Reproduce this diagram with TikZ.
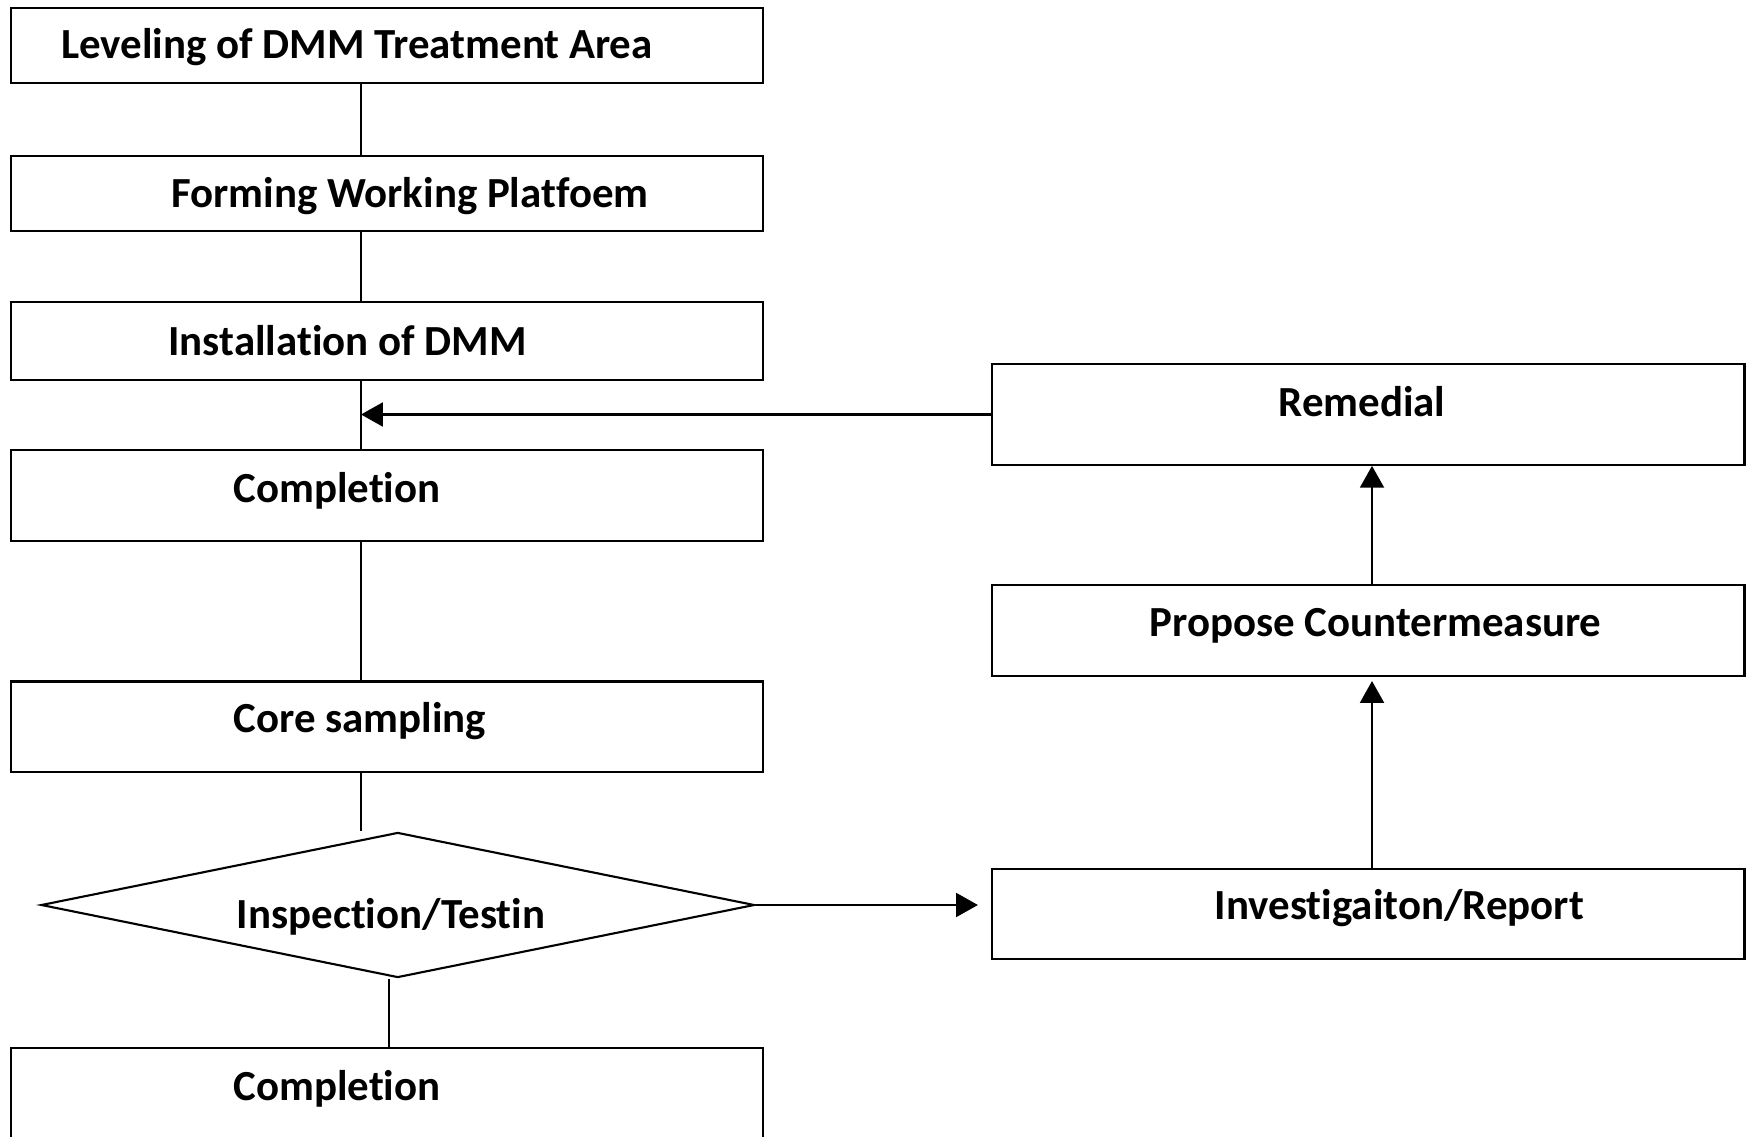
\documentclass[tikz,border=0pt]{standalone}
\usepackage{fontspec}
\setmainfont{Carlito}[Ligatures=NoCommon]
\usetikzlibrary{shapes.geometric,arrows.meta}
\begin{document}
\begin{tikzpicture}[x=0.01cm,y=-0.01cm,
  box/.style={draw,line width=0.6pt,rectangle,minimum width=7.52cm,inner sep=0pt},
  dia/.style={draw,line width=0.6pt,diamond,minimum width=7.13cm,minimum height=1.45cm,inner sep=0pt},
  txt/.style={font=\bfseries\fontsize{12.2pt}{14pt}\selectfont,inner sep=0pt,anchor=center},
  conn/.style={line width=0.5pt},
  arr/.style={line width=0.6pt,-{Triangle[length=6.2pt,width=6.8pt]}}]
\useasboundingbox (0,0) rectangle (1752,1137);
% left column boxes
\node[box,minimum height=0.75cm] (b1) at (387,45.2) {};
\node[box,minimum height=0.75cm] (b2) at (387,193.8) {};
\node[box,minimum height=0.78cm] (b3) at (387,340.8) {};
\node[box,minimum height=0.905cm] (b4) at (387,495.5) {};
\node[box,minimum height=0.905cm] (b5) at (387,726.8) {};
\node[dia] (d) at (397.8,905) {};
\node[box,minimum height=0.97cm] (b6) at (387,1096.5) {};
% right column boxes
\node[box,minimum height=1.006cm] (r1) at (1368.2,414.5) {};
\node[box,minimum height=0.905cm] (r2) at (1368.2,630.7) {};
\node[box,minimum height=0.894cm] (r3) at (1368.2,914) {};
% texts
\node[txt] (t1) at (357,47.5) {Leveling of DMM Treatment Area};
\node[txt] (t2) at (410,196) {Forming Working Platfoem};
\node[txt] (t3) at (347.5,341) {Installation of DMM};
\node[txt] (t4) at (337,490.5) {Completion};
\node[txt] (t5) at (360,721) {Core sampling};
\node[txt] (td) at (391,917) {Inspection/Testin};
\node[txt] (t6) at (337,1088.5) {Completion};
\node[txt] (tr1) at (1362,402) {Remedial};
\node[txt] (tr2) at (1375.5,625.5) {Propose Countermeasure};
\node[txt] (tr3) at (1399.4,908) {Investigaiton/Report};
% guide coordinates
\coordinate (lx) at (361,0);
\coordinate (dx) at (389,0);
\coordinate (ax) at (1372,0);
% connectors
\draw[conn] (lx |- b1.south) -- (lx |- b2.north);
\draw[conn] (lx |- b2.south) -- (lx |- b3.north);
\draw[conn] (lx |- b3.south) -- (lx |- b4.north);
\draw[conn] (lx |- b4.south) -- (lx |- b5.north);
\draw[conn] (lx |- b5.south) -- (lx |- d.north);
\draw[conn] (dx |- d.south) -- (dx |- b6.north);
\draw[arr] (r1.west) -- (lx |- r1.west);
\draw[arr,shorten >=0.13cm] (d.east) -- (d.east -| r3.west);
\draw[arr,shorten >=0.04cm] (ax |- r3.north) -- (ax |- r2.south);
\draw[arr] (ax |- r2.north) -- (ax |- r1.south);
\end{tikzpicture}
\end{document}
